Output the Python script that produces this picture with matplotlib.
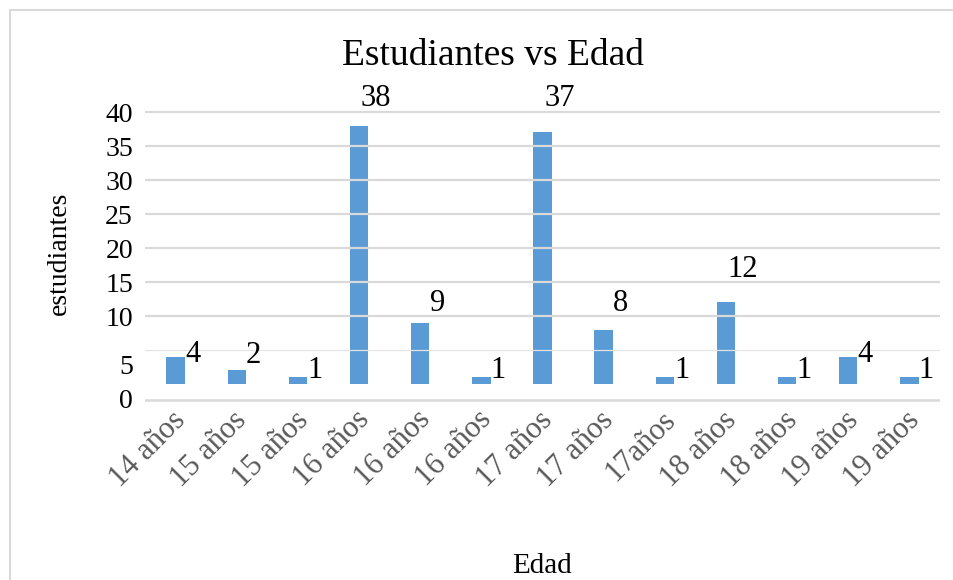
import matplotlib
matplotlib.use("Agg")
import matplotlib.pyplot as plt
from matplotlib.lines import Line2D
from matplotlib.transforms import ScaledTranslation
import numpy as np

# Data
edades = ["14 años", "15 años", "15 años", "16 años", "16 años", "16 años",
          "17 años", "17 años", "17años", "18 años", "18 años", "19 años", "19 años"]
estudiantes = [4, 2, 1, 38, 9, 1, 37, 8, 1, 12, 1, 4, 1]
ytick_text = ["0", "5", "10", "15", "20", "25", "30", "35", "40"]

plt.rcParams["font.family"] = ["Liberation Serif", "DejaVu Serif"]

W, H = 954, 580
DPI = 100
fig = plt.figure(figsize=(W / DPI, H / DPI), dpi=DPI)
fig.patch.set_facecolor("white")

def px(v):
    """pixels -> points"""
    return v * 72 / DPI

# axes geometry (pixel coordinates measured from the top-left corner)
left_px, right_px = 145, 940
zero_px, unit_px = 384, 6.8
ymin, ymax = -2.6, 40.3
bottom_px = zero_px - ymin * unit_px
top_px = zero_px - ymax * unit_px
ax = fig.add_axes([left_px / W, 1 - bottom_px / H,
                   (right_px - left_px) / W, (bottom_px - top_px) / H])
ax.set_xlim(-0.5, len(edades) - 0.5)
ax.set_ylim(ymin, ymax)
for s in ax.spines.values():
    s.set_visible(False)

x = np.arange(len(edades))
bars = ax.bar(x, estudiantes, width=0.30, color="#5B9BD5", zorder=2)

# horizontal gridlines, drawn over the bars
grid_col = "#D9D9D9"
for v in range(10, 45, 5):
    ax.axhline(v, color=grid_col, lw=px(2.2), zorder=3)
ax.axhline(5, color="#E4E4E4", lw=px(1.2), zorder=3)
base_line = -2.35
ax.axhline(base_line, color=grid_col, lw=px(2.5), zorder=3)

# y tick labels
ytick_pos = [-2.2, 2.9] + list(range(10, 45, 5))
ax.set_yticks(ytick_pos)
ax.set_yticklabels(ytick_text, fontsize=20, color="black")
ax.tick_params(axis="y", length=0, pad=px(12))

# x tick labels
ax.set_xticks(x)
ax.set_xticklabels(edades, fontsize=22, color="#595959", rotation=45,
                   ha="right", rotation_mode="anchor", va="center")
ax.tick_params(axis="x", length=0, pad=px(14))
shift = ScaledTranslation(px(6) / 72, 0, fig.dpi_scale_trans)
for lbl in ax.get_xticklabels():
    lbl.set_transform(lbl.get_transform() + shift)

# value labels
label_dx = 17
label_dy = [6, 18, 10, 31, 23, 10, 37, 30, 10, 36, 10, 6, 10]
for xi, v, dy in zip(x, estudiantes, label_dy):
    ax.annotate(str(v), xy=(xi, v), xytext=(px(label_dx), px(dy)),
                textcoords="offset points", ha="center", va="center_baseline",
                fontsize=22, color="black", zorder=4)

# titles
fig.text(493 / W, 1 - 56 / H, "Estudiantes vs Edad", fontsize=27,
         ha="center", va="center", color="black")
fig.text(59 / W, 1 - 253 / H, "estudiantes", fontsize=20, rotation=90,
         ha="center", va="center", color="black")
fig.text(542 / W, 1 - 566 / H, "Edad", fontsize=21,
         ha="center", va="center", color="black")

# chart border
fig.add_artist(Line2D([10 / W, 10 / W], [0, 1 - 10 / H],
                      transform=fig.transFigure, color="#D9D9D9", lw=px(2)))
fig.add_artist(Line2D([10 / W, 1], [1 - 10 / H, 1 - 10 / H],
                      transform=fig.transFigure, color="#D9D9D9", lw=px(2)))

fig.savefig("out.png", dpi=DPI)
